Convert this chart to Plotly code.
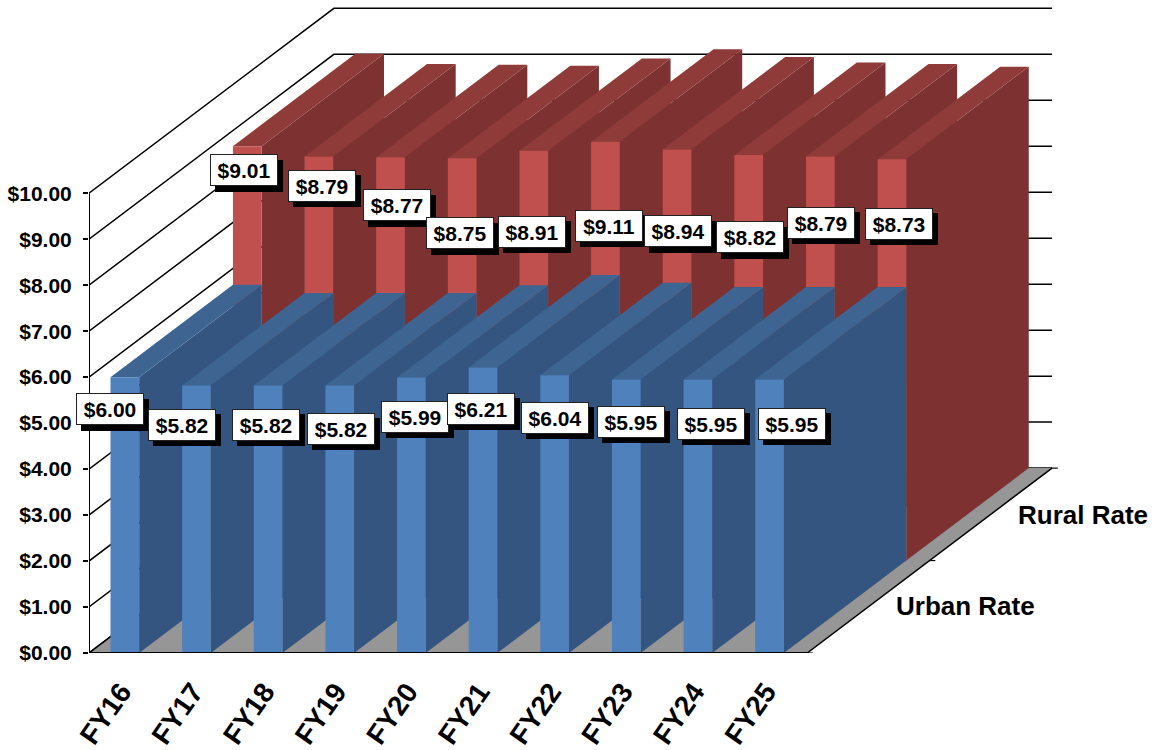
import plotly.graph_objects as go

# ---- data ----
categories = ["FY16", "FY17", "FY18", "FY19", "FY20", "FY21", "FY22", "FY23", "FY24", "FY25"]
urban_rate = [6.00, 5.82, 5.82, 5.82, 5.99, 6.21, 6.04, 5.95, 5.95, 5.95]
rural_rate = [9.01, 8.79, 8.77, 8.75, 8.91, 9.11, 8.94, 8.82, 8.79, 8.73]
y_ticks = list(range(0, 11))
y_tick_labels = [f"${v}.00" for v in y_ticks]

# ---- label nudges from the top of each bar (pixels) ----
urban_nudge = [(-15, 32), (-14, 39.4), (-2, 39.4), (1, 43.4), (3.3, 39.2), (-1.6, 41.2), (0, 42.3), (4.3, 42.4), (13.3, 44.4), (22.2, 44.1)]
rural_nudge = [(-3.3, 24.2), (3.5, 29.5), (6.9, 48.1), (-2.1, 75), (-2.2, 81.1), (3.8, 84.1), (0.7, 81.9), (1.3, 82.4), (1.1, 66.5), (6.7, 64.6)]

# ---- oblique projection (axis units) ----
PX_X, PX_Y = 71.67, 46.0
LEFT_PX, FLOOR_PX = 88.5, 653.3
W, H = 1155, 750
DEPTH_X, DEPTH_Y = 245 / PX_X, 185 / PX_Y
FLOOR_W = 718.5 / PX_X
BAR_OFF, BAR_W = 0.30, 0.40
FONT = "Liberation Sans"


def proj(x, v, d):
    return x + d * DEPTH_X, v + d * DEPTH_Y


def poly(points, color, name):
    xs, ys = zip(*points)
    return go.Scatter(x=list(xs) + [xs[0]], y=list(ys) + [ys[0]], mode="lines", fill="toself",
                      fillcolor=color, line=dict(width=0, color=color), hoverinfo="skip",
                      showlegend=False, name=name)


def line(points, width=1.5, name="grid"):
    xs, ys = zip(*points)
    return go.Scatter(x=list(xs), y=list(ys), mode="lines", line=dict(color="black", width=width),
                      hoverinfo="skip", showlegend=False, name=name)


fig = go.Figure()

# wall gridlines
for v in y_ticks:
    fig.add_trace(line([proj(0, v, 0), proj(0, v, 1), proj(FLOOR_W, v, 1)]))

# floor
fig.add_trace(poly([proj(0, 0, 0), proj(FLOOR_W, 0, 0), proj(FLOOR_W, 0, 1), proj(0, 0, 1)], "#969696", "floor"))
fig.add_trace(line([proj(0, 0, 0), proj(0, 0, 1)], 1.5, "floor left"))
fig.add_trace(line([proj(FLOOR_W, 0, 0), proj(FLOOR_W, 0, 1)], 1.5, "floor right"))
for d in (0, 0.5, 1):
    fig.add_trace(line([proj(FLOOR_W, 0, d), proj(FLOOR_W + 0.08, 0, d)], 1.2, "depth tick"))


def bars(values, d0, d1, front, side, top, name):
    for i, v in enumerate(values):
        xl = i + BAR_OFF
        xr = xl + BAR_W
        fig.add_trace(poly([proj(xr, 0, d0), proj(xr, 0, d1), proj(xr, v, d1), proj(xr, v, d0)], side, name + " side"))
        fig.add_trace(poly([proj(xl, v, d0), proj(xr, v, d0), proj(xr, v, d1), proj(xl, v, d1)], top, name + " top"))
        fig.add_trace(poly([proj(xl, 0, d0), proj(xr, 0, d0), proj(xr, v, d0), proj(xl, v, d0)], front, name))


bars(rural_rate, 0.5, 1.0, "#C0504D", "#7D3231", "#8E3B3A", "Rural Rate")
bars(urban_rate, 0.0, 0.5, "#4F81BD", "#345580", "#3E6592", "Urban Rate")

# front axis lines
fig.add_trace(line([proj(0, 0, 0), proj(0, 10, 0)], 2, "value axis"))
fig.add_trace(line([proj(0, 0, 0), proj(FLOOR_W, 0, 0)], 2, "category axis"))

# value labels with hard shadows
annotations = []


def labels(values, d, nudges):
    for i, (v, (dx, dy)) in enumerate(zip(values, nudges)):
        x, y = proj(i + BAR_OFF + BAR_W / 2, v, d)
        common = dict(x=x, y=y, xref="x", yref="y", showarrow=False, width=66, height=30,
                      xanchor="center", yanchor="middle", borderpad=0)
        annotations.append(dict(common, text="\u00a0", bgcolor="black", borderwidth=1, bordercolor="black",
                                xshift=dx + 5, yshift=-dy - 5.5, font=dict(size=10, family=FONT)))
        annotations.append(dict(common, text=f"${v:.2f}", bgcolor="white", borderwidth=1, bordercolor="#222222",
                                xshift=dx, yshift=-dy,
                                font=dict(size=21, family=FONT, color="black", weight="bold")))


labels(rural_rate, 0.5, rural_nudge)
labels(urban_rate, 0.0, urban_nudge)

# depth-axis series names
series_name_font = dict(size=26, family=FONT, color="black", weight="bold")
annotations.append(dict(x=(1082.5 - LEFT_PX) / PX_X, y=3.0, xref="x", yref="y", showarrow=False,
                        text="Rural Rate", font=series_name_font))
annotations.append(dict(x=(965 - LEFT_PX) / PX_X, y=1.02, xref="x", yref="y", showarrow=False,
                        text="Urban Rate", font=series_name_font))

fig.update_layout(
    width=W, height=H, autosize=False,
    margin=dict(l=LEFT_PX, r=0, t=0, b=H - FLOOR_PX, pad=0),
    paper_bgcolor="white", plot_bgcolor="white", showlegend=False,
    annotations=annotations,
    xaxis=dict(range=[0, (W - LEFT_PX) / PX_X], showgrid=False, zeroline=False, showline=False,
               tickmode="array", tickvals=[i + 0.45 for i in range(len(categories))], ticktext=categories,
               tickangle=-55, ticks="outside", ticklen=10, tickcolor="rgba(0,0,0,0)",
               tickfont=dict(size=28, family=FONT, color="black", weight="bold"), fixedrange=True),
    yaxis=dict(range=[0, FLOOR_PX / PX_Y], showgrid=False, zeroline=False, showline=False,
               tickmode="array", tickvals=y_ticks, ticktext=y_tick_labels,
               ticks="outside", ticklen=5, tickwidth=1.5, tickcolor="black", ticklabelstandoff=7,
               tickfont=dict(size=21, family=FONT, color="black", weight="bold"), fixedrange=True),
)

fig.write_html("out.html", post_script="document.body.style.margin='0';document.body.style.overflow='hidden';",
               config={"displayModeBar": False})
